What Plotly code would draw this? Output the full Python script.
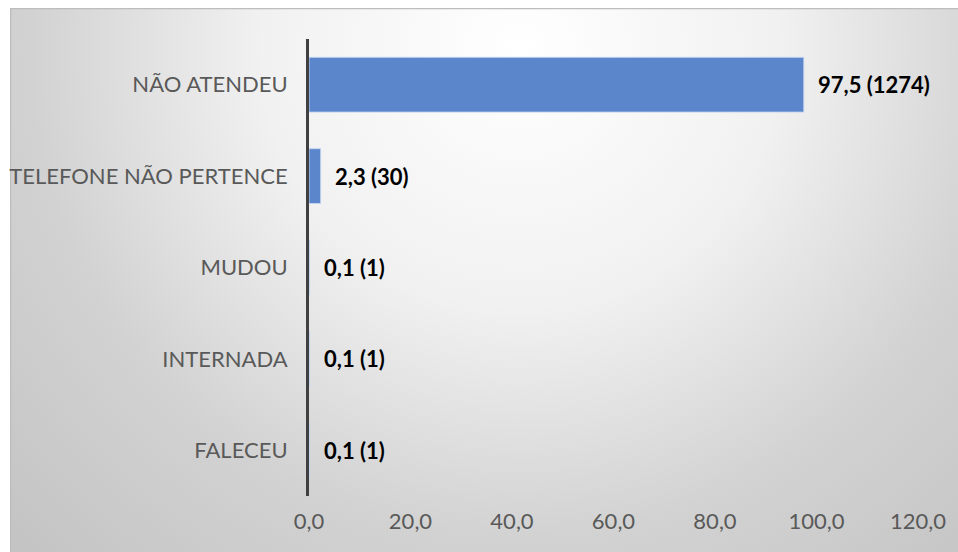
import base64
import plotly.graph_objects as go

# Data
categories = ["NÃO ATENDEU", "TELEFONE NÃO PERTENCE", "MUDOU", "INTERNADA", "FALECEU"]
percentages = [97.5, 2.3, 0.1, 0.1, 0.1]
counts = [1274, 30, 1, 1, 1]
x_ticks = [0, 20, 40, 60, 80, 100, 120]
x_tick_labels = ["0,0", "20,0", "40,0", "60,0", "80,0", "100,0", "120,0"]

labels = [f"{str(p).replace('.', ',')} ({c})" for p, c in zip(percentages, counts)]

W, H = 958, 552
L, R, T, B = 309, 918, 39, 496  # plot area in pixels

# Background gradient panel (chart area) as an SVG image
pw, ph = 960, 556
svg = f'''<svg xmlns="http://www.w3.org/2000/svg" width="{pw}" height="{ph}" viewBox="0 0 {pw} {ph}">
<defs><radialGradient id="g" gradientUnits="userSpaceOnUse" cx="510" cy="40" r="720">
<stop offset="0" stop-color="#ffffff"/>
<stop offset="0.36" stop-color="#f1f1f1"/>
<stop offset="0.68" stop-color="#d2d2d2"/>
<stop offset="1" stop-color="#c3c3c3"/>
</radialGradient></defs>
<rect x="0.5" y="0.5" width="{pw-1}" height="{ph-1}" fill="url(#g)" stroke="#bdbdbd" stroke-width="1.5"/>
</svg>'''
src = "data:image/svg+xml;base64," + base64.b64encode(svg.encode()).decode()

px0, py0 = 10, 8  # panel top-left in pixels
img_x = (px0 - L) / (R - L)
img_y = (B - py0) / (B - T)
img_sx = pw / (R - L)
img_sy = ph / (B - T)

FONT = "Lato, sans-serif"

fig = go.Figure()
fig.add_trace(go.Bar(
    x=percentages,
    y=categories,
    orientation="h",
    marker=dict(color="#5b86cb", line=dict(color="rgba(200,215,240,0.9)", width=1)),
    hoverinfo="skip",
))

for p, cat, lab in zip(percentages, categories, labels):
    fig.add_annotation(
        x=p, y=cat, text=f"<b>{lab}</b>", showarrow=False,
        xanchor="left", yanchor="middle", xshift=12,
        font=dict(family=FONT, size=22, color="#000000"),
    )

fig.add_layout_image(dict(
    source=src, xref="paper", yref="paper",
    x=img_x, y=img_y, sizex=img_sx, sizey=img_sy,
    xanchor="left", yanchor="top", sizing="stretch", layer="below",
))

fig.update_layout(
    width=W, height=H, autosize=False,
    margin=dict(l=L, r=W - R, t=T, b=H - B, autoexpand=False),
    paper_bgcolor="white",
    plot_bgcolor="rgba(0,0,0,0)",
    bargap=0.4,
    showlegend=False,
    font=dict(family=FONT, size=22, color="#595959"),
)
fig.update_xaxes(
    range=[0, 120], tickvals=x_ticks, ticktext=x_tick_labels,
    showgrid=False, zeroline=False, showline=False, automargin=False,
    ticks="", ticklabelstandoff=10,
    tickfont=dict(family=FONT, size=22, color="#595959"),
)
fig.update_yaxes(
    categoryorder="array", categoryarray=categories[::-1],
    showgrid=False, zeroline=False, automargin=False,
    showline=True, linecolor="#404040", linewidth=3,
    ticks="", ticklabelstandoff=14,
    tickfont=dict(family=FONT, size=22, color="#595959"),
)

fig.write_html(
    "out.html",
    config={"displayModeBar": False},
    post_script="document.body.style.margin='0';document.body.style.padding='0';",
)
